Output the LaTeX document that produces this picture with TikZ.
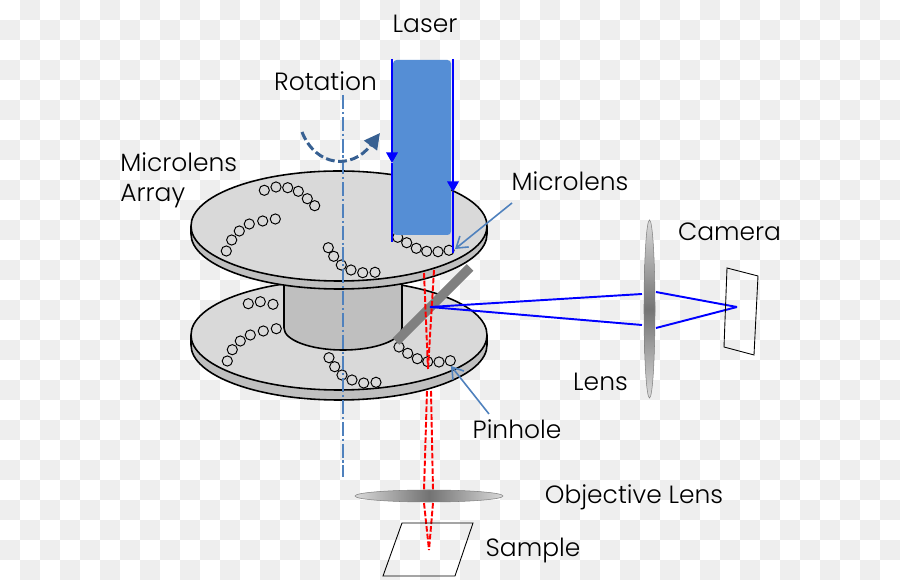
\documentclass[tikz,border=0pt]{standalone}
\usepackage{fontspec}
\setmainfont{Poppins Light}
\usetikzlibrary{arrows.meta}
\definecolor{tile}{HTML}{EEEEEE}
\definecolor{face}{HTML}{D9D9D9}
\definecolor{rim}{HTML}{BFBFBF}
\definecolor{beam}{HTML}{558ED5}
\definecolor{axis}{HTML}{4F81BD}
\definecolor{spin}{HTML}{376092}
\tikzset{
    tag/.style={inner sep=0pt, font=\fontsize{14.2}{17}\selectfont},
    lenslet/.style={circle, draw=black, line width=0.55pt, inner sep=0pt, minimum size=5.8pt},
    ray/.style={draw=blue, line width=1.1pt},
    focus/.style={draw=red, line width=1.1pt, dash pattern=on 3.2pt off 1.2pt},
    callout/.style={draw=axis, line width=0.9pt, -{Straight Barb[length=6pt,width=8pt]}},
    glass/.style={draw=black!50, line width=0.3pt},
}
\newcommand{\platter}[2]{
    \fill [rim, draw=black, line width=0.9pt] (339,#1+#2) ellipse [x radius=148, y radius=55];
    \fill [rim] (191,#1) rectangle (487,#1+#2);
    \draw [line width=0.9pt] (191,#1) -- (191,#1+#2);
    \draw [line width=0.9pt] (487,#1) -- (487,#1+#2);
    \fill [face, draw=black, line width=0.9pt] (339,#1) ellipse [x radius=148, y radius=55];
}
\begin{document}
\begin{tikzpicture}[x=0.02cm, y=-0.02cm]
    \useasboundingbox (0,0) rectangle (900,580);
    \fill [white] (0,0) rectangle (900,580);
    \foreach \i in {20,60,...,880}
        \foreach \j in {0,40,...,560}
            \fill [tile] (\i,\j) rectangle +(20,20);
    \foreach \i in {0,40,...,880}
        \foreach \j in {20,60,...,560}
            \fill [tile] (\i,\j) rectangle +(20,20);

    % lower disc, drum and mirror
    \platter{335}{10}
    \fill [rim] (284,280) -- (284,328) arc [start angle=180, end angle=0, x radius=59, y radius=22] -- (402,280) -- cycle;
    \draw [line width=0.9pt] (284,280) -- (284,328) arc [start angle=180, end angle=0, x radius=59, y radius=22] -- (402,280);
    \foreach \p [count=\i] in {(248.3,303.7),(260.3,301.7),(273,304.3),
        (276.3,328.7),(263.3,331),(250.3,335),(240.3,341),(232.3,349.7),(227.3,361),
        (329,357.7),(334.7,366.7),(342,375),(352,380),(363.7,383),(376,382.3),
        (399,347),(407.7,353.3),(417.3,358.7),(427.7,361.7),(439,362),(450.3,360.7)}
        \node [lenslet] (B\i) at \p {};
    \draw [line width=5.4pt, color=black!50] (396,341.5) -- (470,267.5);

    % upper disc
    \platter{226}{8}
    \foreach \p [count=\i] in {(264.3,190.3),(276,187),(287.7,187.7),(298.3,191.3),(307.3,198.7),(314.7,205.7),
        (275.3,219),(262.7,221),(249.3,224),(239.3,231),(231.7,240),(226.3,251),
        (328.3,247.7),(333.7,256.3),(341.3,265),(351,270),(362.7,272.7),(375,272.3),
        (397.7,237.3),(406.7,242.7),(416.3,248.3),(426.7,251.3),(438,251.7),(449,250.3)}
        \node [lenslet] (T\i) at \p {};

    % laser
    \fill [beam, rounded corners=2pt] (393,60) rectangle (451,235);
    \coordinate (LA) at (392,59);
    \coordinate (LB) at (392,163);
    \coordinate (LC) at (392,242);
    \coordinate (RA) at (453,59);
    \coordinate (RB) at (453,192);
    \coordinate (RC) at (453,253);
    \path (LA) edge [ray, -{Triangle[length=6pt,width=6.5pt]}] (LB);
    \path (LB) edge [ray] (LC);
    \path (RA) edge [ray, -{Triangle[length=6pt,width=6.5pt]}] (RB);
    \path (RB) edge [ray] (RC);

    % rotation axis
    \coordinate (AT) at (343,95);
    \coordinate (AB) at (343,477);
    \path (AT) edge [draw=axis, line width=0.9pt, dash pattern=on 8pt off 1.6pt on 1.2pt off 1.6pt] (AB);
    \coordinate (SA) at (302,132);
    \coordinate (SB) at (380,133);
    \draw [spin, line width=1.7pt, dash pattern=on 5pt off 2pt, -{Triangle[length=9pt,width=9pt]}]
        (SA) .. controls (316,167) and (352,170) .. (SB);

    % focus rays
    \coordinate (FA) at (424,273);
    \coordinate (FB) at (434,270);
    \coordinate (FC) at (428,369);
    \coordinate (GA) at (427,391);
    \coordinate (GB) at (431,391);
    \coordinate (GC) at (424,490);
    \coordinate (GD) at (433,490);
    \coordinate (HA) at (424,503);
    \coordinate (HB) at (433,503);
    \coordinate (HC) at (429,550);
    \path (FA) edge [focus] (FC);
    \path (FB) edge [focus] (FC);
    \path (GA) edge [focus] (GC);
    \path (GB) edge [focus] (GD);
    \path (HA) edge [focus] (HC);
    \path (HB) edge [focus] (HC);

    % imaging path
    \coordinate (MP) at (430,307);
    \coordinate (UL) at (642,294);
    \coordinate (LL) at (642,325);
    \coordinate (UR) at (656,292);
    \coordinate (LR) at (656,328);
    \coordinate (CP) at (737,307);
    \path (MP) edge [ray] (UL);
    \path (MP) edge [ray] (LL);
    \path (UR) edge [ray] (CP);
    \path (LR) edge [ray] (CP);

    % lenses, camera and sample
    \shade [glass, top color=black!15, bottom color=black!15, middle color=black!55] (649.5,309) ellipse [x radius=5.5, y radius=89];
    \shade [glass, left color=black!15, right color=black!15, middle color=black!55] (429,496) ellipse [x radius=74, y radius=6];
    \draw [line width=0.5pt] (727,268) -- (758,276) -- (754,355) -- (724,347) -- cycle;
    \draw [line width=0.5pt] (402,523) -- (473,523) -- (455,576) -- (383,576) -- cycle;

    % callouts
    \node [tag] (laser) at (425,24) {Laser};
    \node [tag] (rotation) at (325.5,81) {Rotation};
    \node [tag, anchor=west, align=left] (array) at (120,180) {Microlens\\Array};
    \node [tag] (microlens) at (570,181) {Microlens};
    \node [tag] (camera) at (729.5,232) {Camera};
    \node [tag] (lens) at (600.5,382) {Lens};
    \node [tag] (pinhole) at (517,429) {Pinhole};
    \node [tag] (objective) at (634,497) {Objective Lens};
    \node [tag] (sample) at (533,550) {Sample};
    \coordinate (MT) at (455,249);
    \coordinate (PT) at (451,366);
    \coordinate (MS) at (512,203);
    \coordinate (PS) at (489,414);
    \path (MS) edge [callout] (MT);
    \path (PS) edge [callout] (PT);
\end{tikzpicture}
\end{document}
